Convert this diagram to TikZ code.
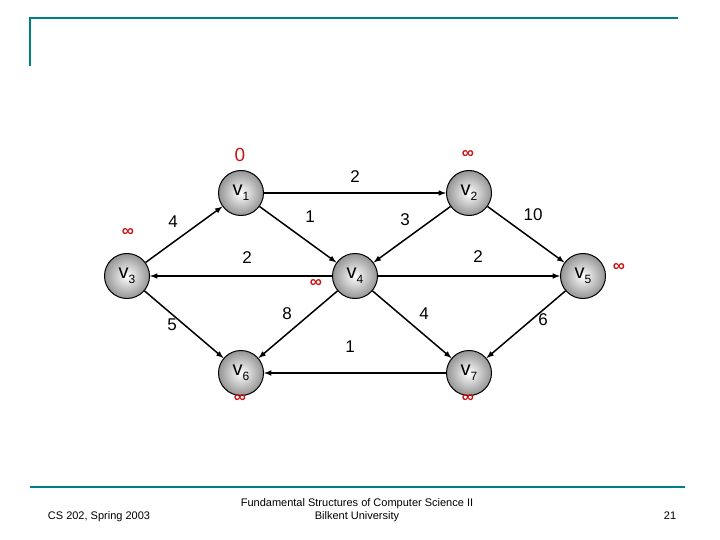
\documentclass[tikz,border=0pt]{standalone}
\usepackage{fontspec}
\setmainfont{Liberation Sans}
\definecolor{teal1}{RGB}{0,128,128}
\definecolor{infred}{RGB}{200,20,20}
\begin{document}
\begin{tikzpicture}[x=1pt,y=-1pt,
  vert/.style={circle,draw=black,line width=1pt,minimum size=45pt,inner sep=0pt,inner color=white,outer color=black!42,font=\fontsize{20}{20}\selectfont},
  edge/.style={-latex,line width=1.5pt},
  wt/.style={font=\fontsize{17}{17}\selectfont},
  inf/.style={text=infred,font=\fontsize{17}{17}\selectfont\bfseries},
  foot/.style={font=\fontsize{11}{13}\selectfont,align=center}]
\useasboundingbox (0,0) rectangle (720,540);
\draw[teal1,line width=2.5pt] (30,66) -- (30,18) -- (678,18);
\draw[teal1,line width=2pt] (30,487) -- (685,487);
\newcommand{\vl}[1]{v\raisebox{-0.5ex}{\fontsize{12}{12}\selectfont #1}}
\node[vert] (v1) at (241,193) {\vl1};
\node[vert] (v2) at (469,193) {\vl2};
\node[vert] (v3) at (127,276) {\vl3};
\node[vert] (v4) at (355,276) {\vl4};
\node[vert] (v5) at (583,276) {\vl5};
\node[vert] (v6) at (241,373) {\vl6};
\node[vert] (v7) at (469,373) {\vl7};
\draw[edge] (v1) -- (v2);
\draw[edge] (v1) -- (v4);
\draw[edge] (v3) -- (v1);
\draw[edge] (v4) -- (v3);
\draw[edge] (v2) -- (v4);
\draw[edge] (v2) -- (v5);
\draw[edge] (v4) -- (v5);
\draw[edge] (v3) -- (v6);
\draw[edge] (v4) -- (v6);
\draw[edge] (v4) -- (v7);
\draw[edge] (v5) -- (v7);
\draw[edge] (v7) -- (v6);
\node[wt] (w12) at (355,177) {2};
\node[wt] (w31) at (173,222) {4};
\node[wt] (w14) at (310,217) {1};
\node[wt] (w24) at (405,220) {3};
\node[wt] (w25) at (533,215) {10};
\node[wt] (w43) at (247,258) {2};
\node[wt] (w45) at (478,257) {2};
\node[wt] (w46) at (287,314) {8};
\node[wt] (w47) at (424,314) {4};
\node[wt] (w36) at (172,325) {5};
\node[wt] (w57) at (543,320) {6};
\node[wt] (w76) at (350,347) {1};
\node[text=infred,font=\fontsize{19}{19}\selectfont] (d1) at (240,155) {0};
\node[inf] (d2) at (468,154) {∞};
\node[inf] (d3) at (128,232) {∞};
\node[inf] (d4) at (316,283) {∞};
\node[inf] (d5) at (619,267) {∞};
\node[inf] (d6) at (240,398) {∞};
\node[inf] (d7) at (468,398) {∞};
\node[foot] (f1) at (99,517) {CS 202, Spring 2003};
\node[foot] (f2) at (357,510) {Fundamental Structures of Computer Science II\\Bilkent University};
\node[foot] (f3) at (670,516) {21};
\end{tikzpicture}
\end{document}
